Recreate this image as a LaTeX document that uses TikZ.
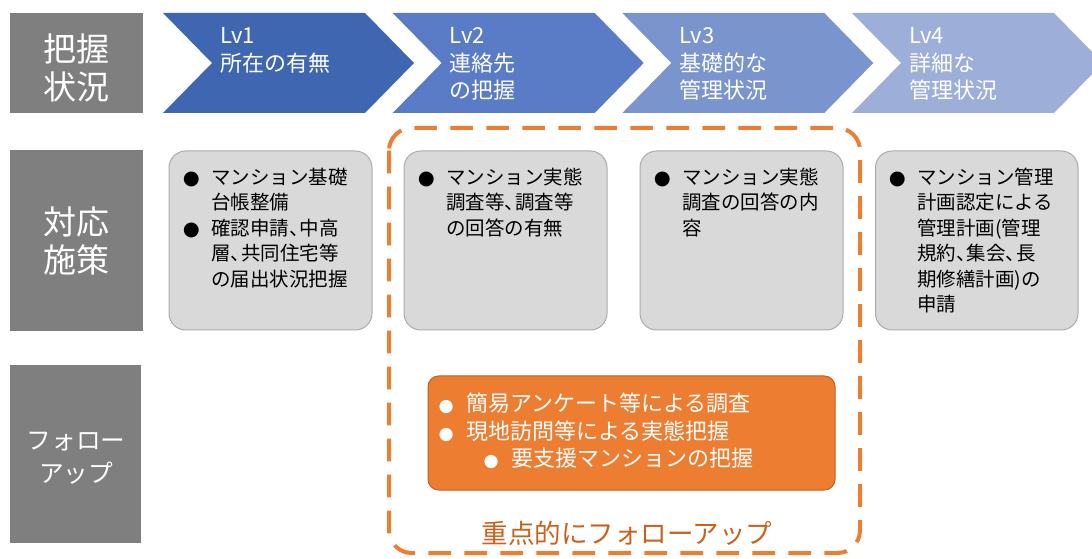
\documentclass[tikz,border=0pt]{standalone}
\usepackage{fontspec}
\setmainfont{Noto Sans CJK JP}
\newfontfamily\symf{DejaVu Sans}
\definecolor{lvone}{HTML}{3F67B1}
\definecolor{lvtwo}{HTML}{5A7BC5}
\definecolor{lvthree}{HTML}{7A94CE}
\definecolor{lvfour}{HTML}{9DAED9}
\definecolor{labgray}{HTML}{7F7F7F}
\definecolor{boxfill}{HTML}{D9D9D9}
\definecolor{boxline}{HTML}{ABABAB}
\definecolor{orfill}{HTML}{ED7D31}
\definecolor{orline}{HTML}{C0601C}
\definecolor{ortext}{HTML}{C8621E}
\newcommand\mystrutx{\rule{0pt}{0.88em}}
\newcommand\blt{\llap{\makebox[30pt][c]{\symf ●}}}
\newcommand\wblt{\llap{\makebox[30pt][c]{\symf\fontsize{13pt}{13pt}\selectfont ●}}}
\newcommand\tcm{\makebox[0.55em][l]{、}}
\tikzset{
  labbox/.style={fill=labgray, draw=none},
  labtext/.style={anchor=north, inner sep=0pt, align=center, text=white},
  chevtext/.style={anchor=north west, inner sep=0pt, align=left, text=white,
    font=\fontsize{16.5pt}{20.6pt}\selectfont},
  graybox/.style={fill=boxfill, draw=boxline, line width=0.75pt, rounded corners=12.5pt},
  boxtext/.style={anchor=north west, inner sep=0pt, align=left, text=black,
    font=\fontsize{14.6pt}{19.1pt}\selectfont},
}
\begin{document}
\begin{tikzpicture}[x=0.75pt,y=-0.75pt]
\useasboundingbox (0,0) rectangle (1092,559);
% left labels
\fill[labbox] (10,13) rectangle (143,113);
\fill[labbox] (10,150) rectangle (143,331);
\fill[labbox] (10,365) rectangle (141,543);
\node[labtext, font=\fontsize{24.75pt}{28.5pt}\selectfont] (lab1) at (76,32.5) {\mystrutx 把握\\状況};
\node[labtext, font=\fontsize{24.75pt}{28.5pt}\selectfont] (lab2) at (76,205.5) {\mystrutx 対応\\施策};
\node[labtext, font=\fontsize{18.5pt}{24.75pt}\selectfont] (lab3) at (76,427.7) {\mystrutx フォロー\\アップ};
% chevrons
\foreach \L/\c in {163/lvone, 392.7/lvtwo, 622.3/lvthree, 852/lvfour}{
  \fill[\c] (\L,13) -- ({\L+202},13) -- ({\L+251},63) -- ({\L+202},113) -- (\L,113) -- ({\L+49},63) -- cycle;
}
\node[chevtext] (c1) at (220,24) {\mystrutx Lv1\\所在の有無};
\node[chevtext] (c2) at (449.7,24) {\mystrutx Lv2\\連絡先\\の把握};
\node[chevtext] (c3) at (679.3,24) {\mystrutx Lv3\\基礎的な\\管理状況};
\node[chevtext] (c4) at (909,24) {\mystrutx Lv4\\詳細な\\管理状況};
% measure boxes
\draw[graybox] (169,151) rectangle (372,330);
\draw[graybox] (404,151) rectangle (607,330);
\draw[graybox] (640,151) rectangle (843,330);
\draw[graybox] (875.5,151) rectangle (1078,330);
\node[boxtext] (b1) at (211,167) {\mystrutx\blt マンション基礎\\台帳整備\\\blt 確認申請\tcm 中高\\層\tcm 共同住宅等\\の届出状況把握};
\node[boxtext] (b2) at (446,167) {\mystrutx\blt マンション実態\\調査等\tcm 調査等\\の回答の有無};
\node[boxtext] (b3) at (682,167) {\mystrutx\blt マンション実態\\調査の回答の内\\容};
\node[boxtext] (b4) at (917,167) {\mystrutx\blt マンション管理\\計画認定による\\管理計画(管理\\規約\tcm 集会\tcm 長\\期修繕計画)の\\申請};
% dashed follow-up frame
\draw[orfill, line width=3pt, dash pattern=on 17pt off 10pt, rounded corners=17pt] (389,128) rectangle (860,553);
% orange box
\draw[fill=orfill, draw=orline, line width=0.75pt, rounded corners=8pt] (428,376) rectangle (835,490);
\node[anchor=north west, inner sep=0pt, align=left, text=white, font=\fontsize{16.5pt}{20.6pt}\selectfont] (ob) at (466,392)
  {\mystrutx\wblt 簡易アンケート等による調査\\\wblt 現地訪問等による実態把握\\\hspace*{33.75pt}\wblt 要支援マンションの把握};
\node[text=ortext, inner sep=0pt, font=\fontsize{19.9pt}{24pt}\selectfont] (fu) at (627,533) {重点的にフォローアップ};
\end{tikzpicture}
\end{document}
